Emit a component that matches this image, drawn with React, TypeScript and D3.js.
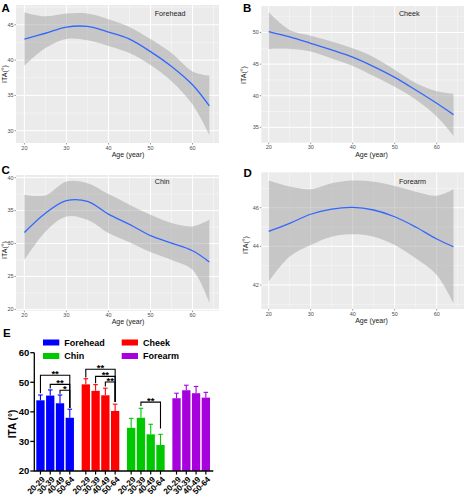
import React from 'react';
import * as d3 from 'd3';

// ---------- Smooth-fit panels (A-D) ----------
const ages = [20, 25, 30, 35, 40, 45, 50, 55, 60, 64];

const foreheadFit = [42.97, 43.8, 44.67, 44.76, 43.96, 42.97, 41.2, 39.1, 36.5, 33.5];
const foreheadUpper = [46.75, 46.2, 46.6, 46.6, 45.8, 44.7, 42.97, 41.0, 38.4, 37.8];
const foreheadLower = [39.2, 41.7, 43.0, 42.8, 42.0, 41.0, 39.3, 37.0, 33.7, 29.4];

const cheekFit = [50.16, 49.3, 48.3, 47.26, 46.1, 44.6, 42.9, 40.9, 38.8, 37.0];
const cheekUpper = [53.2, 50.4, 49.5, 48.6, 47.5, 46.1, 44.1, 42.0, 40.7, 40.3];
const cheekLower = [47.4, 47.4, 47.0, 45.9, 44.7, 43.1, 41.4, 39.4, 36.7, 33.65];

const chinFit = [31.67, 34.6, 36.5, 36.4, 34.45, 32.9, 31.2, 30.06, 28.9, 27.2];
const chinUpper = [37.4, 37.3, 39.4, 39.15, 37.5, 35.9, 34.35, 33.1, 32.6, 33.6];
const chinLower = [27.5, 31.8, 34.1, 33.6, 31.6, 30.2, 28.7, 27.5, 26.0, 21.0];

const forearmFit = [44.78, 45.19, 45.66, 45.93, 46.02, 45.88, 45.53, 45.0, 44.38, 43.98];
const forearmUpper = [47.4, 47.09, 46.95, 47.26, 47.4, 47.34, 47.12, 46.83, 46.62, 46.95];
const forearmLower = [42.18, 43.47, 44.07, 44.5, 44.62, 44.5, 44.07, 43.38, 42.52, 41.06];

const xTicks = [20, 30, 40, 50, 60];
const xMinor = [25, 35, 45, 55, 65];
const foreheadYTicks = [30, 35, 40, 45];
const cheekYTicks = [35, 40, 45, 50];
const chinYTicks = [20, 25, 30, 35, 40];
const forearmYTicks = [42, 44, 46];

// ---------- Bar panel (E) ----------
const siteNames = ['Forehead', 'Cheek', 'Chin', 'Forearm'];
const ageGroups = ['20-29', '30-39', '40-49', '50-64'];
const foreheadMeans = [43.9, 45.5, 42.9, 38.0];
const foreheadSD = [1.8, 1.9, 2.8, 2.9];
const cheekMeans = [49.3, 47.1, 45.6, 40.3];
const cheekSD = [1.9, 2.1, 2.4, 2.3];
const chinMeans = [34.6, 38.0, 32.4, 28.8];
const chinSD = [3.2, 3.2, 3.4, 3.6];
const forearmMeans = [44.6, 47.3, 46.3, 44.8];
const forearmSD = [1.7, 1.7, 2.3, 1.8];
const barYTicks = [20, 30, 40, 50, 60];

// significance brackets (value units)
const bracketSite = [0, 0, 0, 1, 1, 1, 2];
const bracketFrom = [0, 1, 2, 0, 1, 2, 1];
const bracketTo = [3, 3, 3, 3, 3, 3, 3];
const bracketLevel = [52.35, 49.3, 47.28, 54.38, 52.0, 50.1, 43.3];
const bracketLeftEnd = [46.3, 47.9, 46.1, 51.6, 49.7, 48.6, 42.0];
const bracketRightEnd = [41.3, 41.3, 41.3, 43.3, 43.3, 43.3, 34.4];
const bracketLabel = ['**', '**', '*', '**', '**', '**', '**'];

const GG = 'Liberation Sans, Arial, Helvetica, sans-serif';

type PanelProps = {
  x0: number; x1: number; y0: number; y1: number;
  xDom: [number, number]; yDom: [number, number];
  yTicks: number[];
  fit: number[]; upper: number[]; lower: number[];
  name: string; letter: string; letterX: number; letterY: number;
  xTitleX: number; xTitleY: number; yTitleX: number; yTitleY: number;
  nameY: number;
};

function minorTicks(major: number[], dom: [number, number]) {
  const step = major[1] - major[0];
  const out: number[] = [];
  for (let v = major[0] - step / 2; v <= dom[1]; v += step) {
    if (v >= dom[0]) out.push(v);
  }
  return out;
}

function SmoothPanel(p: PanelProps) {
  const x = d3.scaleLinear().domain(p.xDom).range([p.x0, p.x1]);
  const y = d3.scaleLinear().domain(p.yDom).range([p.y1, p.y0]);
  const yMinor = minorTicks(p.yTicks, p.yDom);
  const pts = ages.map((a, i) => ({ a, f: p.fit[i], u: p.upper[i], l: p.lower[i] }));
  const area = d3.area<any>().x(d => x(d.a)).y0(d => y(d.l)).y1(d => y(d.u)).curve(d3.curveCatmullRom.alpha(0.5));
  const line = d3.line<any>().x(d => x(d.a)).y(d => y(d.f)).curve(d3.curveCatmullRom.alpha(0.5));
  return (
    <g>
      <rect x={p.x0} y={p.y0} width={p.x1 - p.x0} height={p.y1 - p.y0} fill="#EBEBEB" />
      {xMinor.filter(v => x(v) <= p.x1).map(v => (
        <line key={'xm' + v} x1={x(v)} x2={x(v)} y1={p.y0} y2={p.y1} stroke="#fff" strokeWidth={0.5} opacity={0.8} />
      ))}
      {yMinor.map(v => (
        <line key={'ym' + v} x1={p.x0} x2={p.x1} y1={y(v)} y2={y(v)} stroke="#fff" strokeWidth={0.5} opacity={0.8} />
      ))}
      {xTicks.map(v => (
        <line key={'xg' + v} x1={x(v)} x2={x(v)} y1={p.y0} y2={p.y1} stroke="#fff" strokeWidth={1} />
      ))}
      {p.yTicks.map(v => (
        <line key={'yg' + v} x1={p.x0} x2={p.x1} y1={y(v)} y2={y(v)} stroke="#fff" strokeWidth={1} />
      ))}
      <path d={area(pts) || ''} fill="#999999" fillOpacity={0.45} />
      <path d={line(pts) || ''} fill="none" stroke="#3366FF" strokeWidth={1.3} />
      {xTicks.map(v => (
        <g key={'xt' + v}>
          <line x1={x(v)} x2={x(v)} y1={p.y1} y2={p.y1 + 1.5} stroke="#333" strokeWidth={0.5} />
          <text x={x(v)} y={p.y1 + 6.5} fontSize={5.5} fill="#4D4D4D" textAnchor="middle" fontFamily={GG}>{v}</text>
        </g>
      ))}
      {p.yTicks.map(v => (
        <g key={'yt' + v}>
          <line x1={p.x0 - 1.5} x2={p.x0} y1={y(v)} y2={y(v)} stroke="#333" strokeWidth={0.5} />
          <text x={p.x0 - 2.5} y={y(v) + 1.9} fontSize={5.5} fill="#4D4D4D" textAnchor="end" fontFamily={GG}>{v}</text>
        </g>
      ))}
      <text x={p.xTitleX} y={p.xTitleY} fontSize={7} textAnchor="middle" fontFamily={GG} fill="#222">Age (year)</text>
      <text transform={`translate(${p.yTitleX},${p.yTitleY}) rotate(-90)`} fontSize={7} textAnchor="middle" fontFamily={GG} fill="#222">ITA(°)</text>
      <text x={x(51)} y={p.nameY} fontSize={7.2} fontFamily={GG} fill="#222">{p.name}</text>
      <text x={p.letterX} y={p.letterY} fontSize={11.5} fontWeight="bold" fontFamily={GG} fill="#000">{p.letter}</text>
    </g>
  );
}

const siteColors = ['#0000FF', '#FF0000', '#00C800', '#A600DC'];

function BarPanel() {
  const means = [foreheadMeans, cheekMeans, chinMeans, forearmMeans];
  const sds = [foreheadSD, cheekSD, chinSD, forearmSD];
  const y = d3.scaleLinear().domain([20, 60]).range([471, 352.7]);
  const gx = d3.scaleBand<string>().domain(siteNames).range([36.3, 210]).paddingInner(0.17);
  const ix = d3.scaleBand<string>().domain(ageGroups).range([0, gx.bandwidth()]).paddingInner(0.15);
  const bw = ix.bandwidth();
  const cx = (s: number, a: number) => (gx(siteNames[s]) as number) + (ix(ageGroups[a]) as number) + bw / 2;
  const axisL = 34.3;
  const axisR = 213.3;
  const legendX = [43, 121.7];
  const legendY = [339.5, 353];
  return (
    <g>
      <text x={3} y={337} fontSize={11.5} fontWeight="bold" fontFamily={GG}>E</text>
      {siteNames.map((s, i) => {
        const lx = legendX[i % 2];
        const ly = legendY[Math.floor(i / 2)];
        return (
          <g key={'lg' + s}>
            <rect x={lx} y={ly} width={16.3} height={6} fill={siteColors[i]} />
            <text x={lx + 21.3} y={ly + 6} fontSize={9} fontWeight="bold" fontFamily={GG}>{s}</text>
          </g>
        );
      })}
      {siteNames.map((s, si) => ageGroups.map((a, ai) => {
        const m = means[si][ai];
        const sd = sds[si][ai];
        const c = cx(si, ai);
        return (
          <g key={s + a}>
            <rect x={c - bw / 2} y={y(m)} width={bw} height={y(20) - y(m)} fill={siteColors[si]} />
            <line x1={c} x2={c} y1={y(m)} y2={y(m + sd)} stroke={siteColors[si]} strokeWidth={1.1} />
            <line x1={c - 2.3} x2={c + 2.3} y1={y(m + sd)} y2={y(m + sd)} stroke={siteColors[si]} strokeWidth={1.1} />
          </g>
        );
      }))}
      {/* axes */}
      <line x1={axisL} x2={axisL} y1={y(60)} y2={y(20) + 0.6} stroke="#000" strokeWidth={1.3} />
      <line x1={axisL} x2={axisR} y1={y(20)} y2={y(20)} stroke="#000" strokeWidth={1.3} />
      {barYTicks.map(v => (
        <g key={'byt' + v}>
          <line x1={axisL - 4} x2={axisL} y1={y(v)} y2={y(v)} stroke="#000" strokeWidth={1.3} />
          <text x={axisL - 5} y={y(v) + 3.3} fontSize={9.5} fontWeight="bold" textAnchor="end" fontFamily={GG}>{v}</text>
        </g>
      ))}
      {siteNames.map((s, si) => ageGroups.map((a, ai) => {
        const c = cx(si, ai);
        return (
          <g key={'xt' + s + a}>
            <line x1={c} x2={c} y1={y(20)} y2={y(20) + 3.5} stroke="#000" strokeWidth={1.2} />
            <text transform={`translate(${c + 5},${y(20) + 9}) rotate(-45)`} fontSize={8.2} fontWeight="bold" textAnchor="end" fontFamily={GG}>{a}</text>
          </g>
        );
      }))}
      <text transform={`translate(16,424) rotate(-90)`} fontSize={10} fontWeight="bold" textAnchor="middle" fontFamily={GG}>ITA (°)</text>
      {bracketLevel.map((lv, i) => {
        const x1 = cx(bracketSite[i], bracketFrom[i]);
        const x2 = cx(bracketSite[i], bracketTo[i]);
        const yl = y(lv);
        return (
          <g key={'br' + i}>
            <path d={`M${x1},${y(bracketLeftEnd[i])}V${yl}H${x2}V${y(bracketRightEnd[i])}`} fill="none" stroke="#000" strokeWidth={1.1} />
            <text x={(x1 + x2) / 2} y={yl + 1.8} fontSize={9.5} fontWeight="bold" textAnchor="middle" fontFamily={GG}>{bracketLabel[i]}</text>
          </g>
        );
      })}
    </g>
  );
}

export default function App() {
  return (
    <svg width={464} height={500} style={{ position: 'absolute', left: 0, top: 0, background: '#fff' }}>
      <rect width={464} height={500} fill="#fff" />
      <SmoothPanel x0={16} x1={219} y0={5} y1={143} xDom={[18.0, 66.3]} yDom={[28.26, 47.8]} yTicks={foreheadYTicks}
        fit={foreheadFit} upper={foreheadUpper} lower={foreheadLower} name="Forehead" letter="A" letterX={1.5} letterY={12}
        xTitleX={128} xTitleY={157} yTitleX={6.5} yTitleY={74} nameY={16} />
      <SmoothPanel x0={261.3} x1={464} y0={6} y1={142.7} xDom={[18.24, 66.5]} yDom={[32.56, 54.2]} yTicks={cheekYTicks}
        fit={cheekFit} upper={cheekUpper} lower={cheekLower} name="Cheek" letter="B" letterX={243} letterY={12}
        xTitleX={371.5} xTitleY={157} yTitleX={246} yTitleY={75} nameY={16} />
      <SmoothPanel x0={16} x1={219} y0={175} y1={310.7} xDom={[18.0, 66.3]} yDom={[19.8, 40.4]} yTicks={chinYTicks}
        fit={chinFit} upper={chinUpper} lower={chinLower} name="Chin" letter="C" letterX={1.5} letterY={173.5}
        xTitleX={128} xTitleY={324} yTitleX={6.5} yTitleY={250} nameY={184} />
      <SmoothPanel x0={261.3} x1={464} y0={172.3} y1={309} xDom={[18.24, 66.5]} yDom={[40.76, 47.83]} yTicks={forearmYTicks}
        fit={forearmFit} upper={forearmUpper} lower={forearmLower} name="Forearm" letter="D" letterX={243.5} letterY={177}
        xTitleX={371.5} xTitleY={323} yTitleX={247.5} yTitleY={245} nameY={184} />
      <BarPanel />
    </svg>
  );
}
